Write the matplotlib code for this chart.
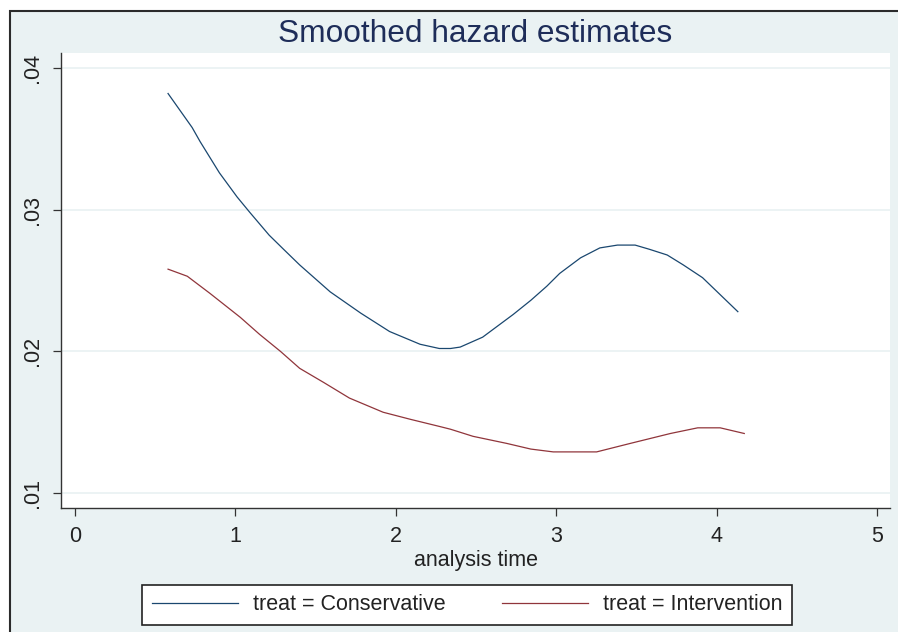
import numpy as np
import matplotlib
matplotlib.use('Agg')
from matplotlib import pyplot as plt
from matplotlib.patches import Rectangle
from matplotlib.lines import Line2D

plt.rcParams['font.family'] = ['Liberation Sans', 'DejaVu Sans']

#---- Smoothed hazard curves (analysis time, hazard)

cons_t = [0.58, 0.73, 0.78, 0.90, 1.01, 1.09, 1.21, 1.30, 1.40, 1.59, 1.78,
          1.96, 2.15, 2.27, 2.34, 2.40, 2.54, 2.73, 2.84, 2.94, 3.02, 3.15,
          3.27, 3.38, 3.49, 3.58, 3.69, 3.79, 3.91, 4.02, 4.13]
cons_h = [0.0382, 0.0358, 0.0348, 0.0326, 0.0309, 0.0298, 0.0282, 0.0272,
          0.0261, 0.0242, 0.0227, 0.0214, 0.0205, 0.0202, 0.0202, 0.0203,
          0.0210, 0.0226, 0.0236, 0.0246, 0.0255, 0.0266, 0.0273, 0.0275,
          0.0275, 0.0272, 0.0268, 0.0261, 0.0252, 0.0240, 0.0228]

intv_t = [0.58, 0.70, 0.84, 1.03, 1.15, 1.28, 1.40, 1.55, 1.71, 1.92, 2.09,
          2.27, 2.34, 2.48, 2.69, 2.84, 2.98, 3.10, 3.25, 3.46, 3.71, 3.88,
          4.02, 4.17]
intv_h = [0.0258, 0.0253, 0.0241, 0.0224, 0.0212, 0.0200, 0.0188, 0.0178,
          0.0167, 0.0157, 0.0152, 0.0147, 0.0145, 0.0140, 0.0135, 0.0131,
          0.0129, 0.0129, 0.0129, 0.0135, 0.0142, 0.0146, 0.0146, 0.0142]

labels = ['treat = Conservative', 'treat = Intervention']
colors = ['#1a476f', '#90353b']

xticks = [0, 1, 2, 3, 4, 5]
yticks = [0.01, 0.02, 0.03, 0.04]
yticklabels = ['.01', '.02', '.03', '.04']

bg = '#eaf2f3'

#---- Figure

W, H = 898, 632
fig = plt.figure(figsize=(W/100., H/100.), dpi=100, facecolor='white')

# graph region with its outer frame (kept behind the axes)
frame = Rectangle((10./W, -0.05), 1.2, 1 - 11./H + 0.05, transform=fig.transFigure,
                  facecolor=bg, edgecolor='#2b2b2b', linewidth=1.5, zorder=-10)
fig.patches.append(frame)

ax = fig.add_axes([61./W, 1 - 508./H, (890. - 61.)/W, (508. - 53.)/H])
ax.set_facecolor('white')

ax.plot(cons_t, cons_h, color=colors[0], lw=0.9)
ax.plot(intv_t, intv_h, color=colors[1], lw=0.9)

ax.set_xlim(-0.087, 5.078)
ax.set_ylim(0.00894, 0.04106)

ax.set_xticks(xticks)
ax.set_yticks(yticks)
ax.set_yticklabels(yticklabels, rotation=90, va='center')

ax.yaxis.grid(True, color=bg, lw=1.3)
ax.set_axisbelow(True)

for s in ['top', 'right']:
    ax.spines[s].set_visible(False)
for s in ['left', 'bottom']:
    ax.spines[s].set_color('#333333')
    ax.spines[s].set_linewidth(1.0)

ax.tick_params(axis='both', direction='out', length=6, width=0.9,
               color='#333333', labelsize=15.5, pad=7, labelcolor='#222222')

ax.set_xlabel('analysis time', fontsize=15.5, color='#222222', labelpad=2)
ax.set_title('Smoothed hazard estimates', fontsize=22.8, color='#1e2d59', pad=8)

handles = [Line2D([], [], color=c, lw=0.9) for c in colors]
leg = fig.legend(handles, labels, loc='center', ncol=2,
                 bbox_to_anchor=(467./W, 1 - 605./H), fontsize=15.5,
                 handlelength=4.0, handletextpad=0.7, columnspacing=2.6,
                 borderpad=0.45, fancybox=False, framealpha=1, edgecolor='#222222')
leg.get_frame().set_linewidth(1.2)
for t in leg.get_texts():
    t.set_color('#222222')

plt.savefig('out.png', dpi=100, facecolor=fig.get_facecolor())
